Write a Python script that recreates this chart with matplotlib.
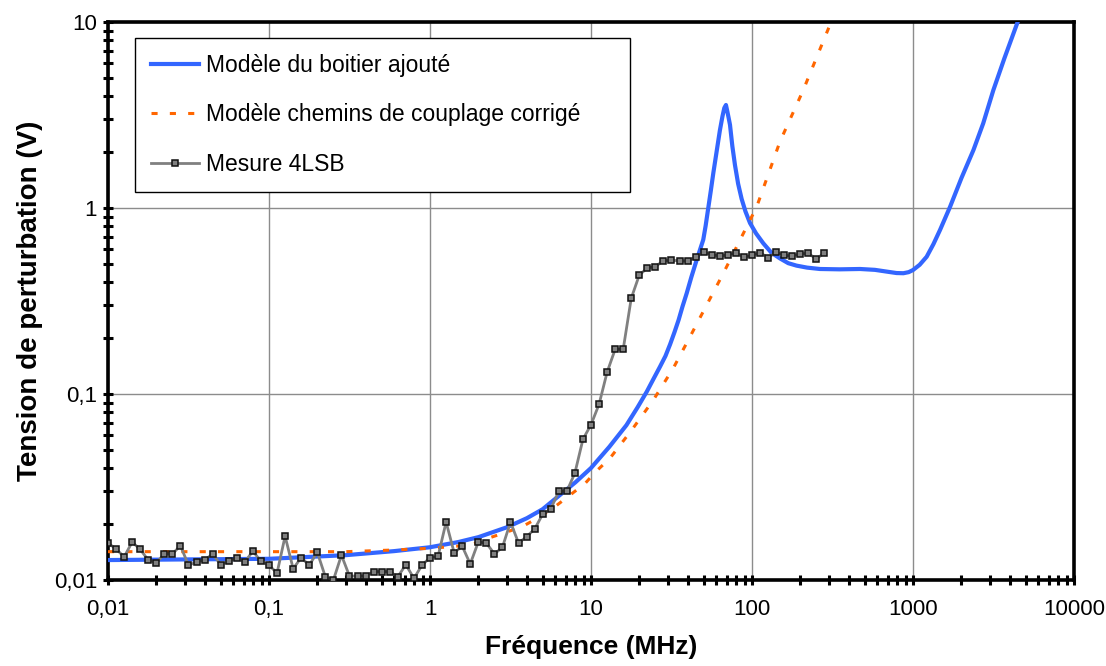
import matplotlib
matplotlib.use("Agg")
import matplotlib.pyplot as plt
from matplotlib.ticker import LogLocator, FuncFormatter, NullFormatter

plt.rcParams['font.family'] = ['Liberation Sans', 'DejaVu Sans']

# ---- Data ----
freq_meas = [
    0.01, 0.01122, 0.01259, 0.01413, 0.01585, 0.01778, 0.01995, 0.02239, 0.02512, 0.02818,
    0.03162, 0.03548, 0.03981, 0.04467, 0.05012, 0.05623, 0.0631, 0.07079, 0.07943, 0.08913,
    0.1, 0.1122, 0.1259, 0.1413, 0.1585, 0.1778, 0.1995, 0.2239, 0.2512, 0.2818,
    0.3162, 0.3548, 0.3981, 0.4467, 0.5012, 0.5623, 0.631, 0.7079, 0.7943, 0.8913,
    1.0, 1.122, 1.259, 1.413, 1.585, 1.778, 1.995, 2.239, 2.512, 2.818,
    3.162, 3.548, 3.981, 4.467, 5.012, 5.623, 6.31, 7.079, 7.943, 8.913,
    10.0, 11.22, 12.59, 14.13, 15.85, 17.78, 19.95, 22.39, 25.12, 28.18,
    31.62, 35.48, 39.81, 44.67, 50.12, 56.23, 63.1, 70.79, 79.43, 89.13,
    100.0, 112.2, 125.9, 141.3, 158.5, 177.8, 199.5, 223.9, 251.2, 281.8,
]
v_meas = [
    0.0158, 0.0147, 0.0133, 0.0160, 0.0146, 0.0128, 0.0124, 0.0138, 0.0138, 0.0153,
    0.0120, 0.0125, 0.0128, 0.0138, 0.0121, 0.0126, 0.0131, 0.0125, 0.0143, 0.0126,
    0.0120, 0.0109, 0.0172, 0.0115, 0.0132, 0.0120, 0.0141, 0.0104, 0.0100, 0.0136,
    0.0105, 0.0105, 0.0105, 0.0111, 0.0111, 0.0111, 0.0104, 0.0121, 0.0102, 0.0120,
    0.0132, 0.0134, 0.0205, 0.0140, 0.0152, 0.0122, 0.0160, 0.0158, 0.0138, 0.0150,
    0.0205, 0.0158, 0.0171, 0.0188, 0.0226, 0.0241, 0.0300, 0.0300, 0.0376, 0.0571,
    0.0684, 0.0880, 0.131, 0.174, 0.174, 0.327, 0.436, 0.476, 0.484, 0.521,
    0.523, 0.521, 0.517, 0.547, 0.578, 0.561, 0.552, 0.559, 0.575, 0.543,
    0.557, 0.575, 0.541, 0.578, 0.557, 0.552, 0.568, 0.570, 0.532, 0.575,
]

freq_boitier = [0.01, 0.03, 0.1, 0.3, 0.6, 1.0, 1.5, 2.0, 3.0, 4.0, 5.0, 6.4, 8.0, 10.0,
                13.0, 16.6, 19.5, 22.2, 24.5, 26.8, 29.0, 31.0, 33.0, 35.0, 37.0, 39.3,
                42.0, 45.3, 47.5, 49.8, 51.5, 53.5, 55.5, 57.5, 60.5, 63.2, 65.5, 67.3,
                68.9, 70.3, 71.6, 73.0, 75.5, 78.4, 82.0, 86.2, 91.0, 97.2, 106, 117.5,
                132, 149, 168, 189, 220, 264, 350, 469, 580, 687, 790, 872, 940, 1000,
                1100, 1216, 1340, 1472, 1700, 2000, 2374, 2729, 3155, 3700, 4467]
v_boitier = [0.0128, 0.0129, 0.0130, 0.0136, 0.0143, 0.0150, 0.0160, 0.0170, 0.0192, 0.0215,
             0.0240, 0.0286, 0.0335, 0.0400, 0.0520, 0.0680, 0.0850, 0.1029, 0.121, 0.140,
             0.160, 0.185, 0.215, 0.250, 0.295, 0.348, 0.425, 0.525, 0.595, 0.675, 0.80,
             1.0, 1.24, 1.54, 2.05, 2.62, 3.10, 3.45, 3.58, 3.30, 3.05, 2.80, 2.15,
             1.70, 1.35, 1.12, 0.96, 0.83, 0.73, 0.646, 0.575, 0.536, 0.505, 0.49, 0.478,
             0.47, 0.468, 0.47, 0.465, 0.455, 0.447, 0.446, 0.452, 0.464, 0.495, 0.547,
             0.640, 0.762, 1.016, 1.45, 2.05, 2.85, 4.3, 6.4, 10.0]

freq_chemins = [0.01, 0.1, 0.3, 0.6, 1.0, 1.77, 2.36, 3.0, 3.8, 4.82, 6.12, 7.4, 9.18,
                10.6, 13.1, 17.9, 24.4, 32.4, 41.2, 52.3, 66.4, 107, 149, 208, 310]
v_chemins = [0.0142, 0.0142, 0.0142, 0.0145, 0.0148, 0.0154, 0.0169, 0.0181, 0.0195,
             0.0219, 0.0252, 0.0286, 0.0330, 0.0379, 0.0451, 0.064, 0.0929, 0.1374,
             0.203, 0.301, 0.446, 1.016, 2.27, 4.3, 10.0]

x_ticks = [0.01, 0.1, 1, 10, 100, 1000, 10000]
y_ticks = [0.01, 0.1, 1, 10]

label_boitier = "Modèle du boitier ajouté"
label_chemins = "Modèle chemins de couplage corrigé"
label_meas = "Mesure 4LSB"
xlabel = "Fréquence (MHz)"
ylabel = "Tension de perturbation (V)"

# ---- Figure ----
fig = plt.figure(figsize=(11.06, 6.66), dpi=100)
ax = fig.add_axes([108 / 1106, 1 - 580 / 666, (1074 - 108) / 1106, (580 - 22) / 666])

ax.plot(freq_boitier, v_boitier, color='#3366FF', lw=3.0, label=label_boitier,
        solid_joinstyle='round', zorder=3)
ax.plot(freq_chemins, v_chemins, color='#FF6600', lw=2.2, dashes=(2, 4),
        label=label_chemins, zorder=3)
ax.plot(freq_meas, v_meas, color='#808080', lw=2.0, marker='s', markersize=5,
        markerfacecolor='#808080', markeredgecolor='#111111', markeredgewidth=1.1,
        label=label_meas, zorder=4)

ax.set_xscale('log')
ax.set_yscale('log')
ax.set_xlim(0.01, 10000)
ax.set_ylim(0.01, 10)

fmt = FuncFormatter(lambda v, p: ('%g' % v).replace('.', ','))
ax.set_xticks(x_ticks)
ax.set_yticks(y_ticks)
ax.xaxis.set_major_formatter(fmt)
ax.yaxis.set_major_formatter(fmt)
ax.xaxis.set_minor_locator(LogLocator(base=10, subs=range(2, 10), numticks=100))
ax.yaxis.set_minor_locator(LogLocator(base=10, subs=range(2, 10), numticks=100))
ax.xaxis.set_minor_formatter(NullFormatter())
ax.yaxis.set_minor_formatter(NullFormatter())

ax.grid(True, which='major', color='#8c8c8c', lw=1.0)
ax.set_axisbelow(True)

for s in ax.spines.values():
    s.set_linewidth(2.6)
    s.set_color('black')

ax.tick_params(which='both', direction='inout', length=7.5, width=2.2, color='black',
               top=False, right=False, labelsize=16)
ax.tick_params(axis='x', which='major', pad=10)
ax.tick_params(axis='y', which='major', pad=4)

ax.set_xlabel(xlabel, fontsize=19, fontweight='bold', labelpad=11)
ax.set_ylabel(ylabel, fontsize=20, fontweight='bold', labelpad=8)

leg = ax.legend(loc='upper left', bbox_to_anchor=(27 / 966, 0, 495 / 966, 1 - 16 / 558),
                mode='expand', borderaxespad=0, fontsize=16.5, handlelength=2.1,
                handletextpad=0.3, labelspacing=1.15, borderpad=0.7, fancybox=False,
                framealpha=1, edgecolor='black')
leg.get_frame().set_linewidth(1.0)

fig.savefig('out.png', dpi=100)
